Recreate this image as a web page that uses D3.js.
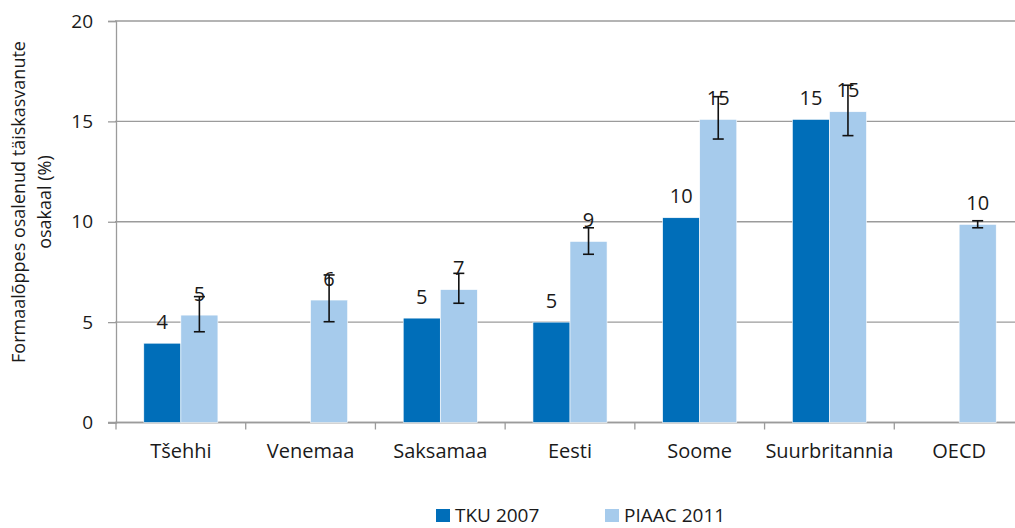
<!DOCTYPE html>
<html>
<head>
<meta charset="utf-8">
<script src="https://cdn.jsdelivr.net/npm/d3@7"></script>
<style>
  body { margin: 0; background: #fff; }
  svg text { font-family: "Open Sans", sans-serif; fill: #1a1a1a; }
</style>
</head>
<body>
<div id="chart"></div>
<script>
// data
var categories = ["Tšehhi", "Venemaa", "Saksamaa", "Eesti", "Soome", "Suurbritannia", "OECD"];
var seriesNames = ["TKU 2007", "PIAAC 2011"];
var tku2007 = [3.95, null, 5.2, 5.0, 10.2, 15.1, null];
var piaac2011 = [5.35, 6.1, 6.62, 9.02, 15.1, 15.48, 9.87];
var piaacLow = [4.52, 5.02, 5.94, 8.38, 14.12, 14.29, 9.70];
var piaacHigh = [6.27, 7.35, 7.43, 9.70, 16.23, 16.8, 10.05];
var yTicks = [0, 5, 10, 15, 20];
var colors = ["#006eb9", "#a6cbec"];

var W = 1015, H = 528;
var margin = {top: 21, left: 116, bottom: 105.5},
    width = 908,
    height = H - margin.top - margin.bottom;

var svg = d3.select("#chart")
  .append("svg")
    .attr("width", W)
    .attr("height", H);

var g = svg.append("g")
    .attr("transform", "translate(" + margin.left + "," + margin.top + ")");

var x = d3.scaleBand()
    .domain(categories)
    .range([0, width]);

var x1 = d3.scaleBand()
    .domain(seriesNames)
    .range([0, x.bandwidth()])
    .paddingOuter(0.75)
    .paddingInner(0);

var y = d3.scaleLinear()
    .domain([0, 20])
    .range([height, 0]);

// gridlines
g.append("g")
  .selectAll("line")
  .data(yTicks)
  .enter()
  .append("line")
    .attr("x1", -1)
    .attr("x2", width)
    .attr("y1", function(d) { return y(d); })
    .attr("y2", function(d) { return y(d); })
    .style("stroke", "#9b9b9b")
    .style("stroke-width", 1.3);

// Y axis
var yAxis = g.append("g")
    .call(d3.axisLeft(y).tickValues(yTicks).tickSize(8).tickPadding(15));
yAxis.select(".domain").style("stroke", "#9b9b9b").style("stroke-width", 1.3);
yAxis.selectAll(".tick line").style("stroke", "#9b9b9b").style("stroke-width", 1.3);
yAxis.selectAll("text").style("font-size", "19px").style("font-family", "Open Sans, sans-serif").style("fill", "#1a1a1a");

// X axis - ticks on category boundaries
var xAxis = g.append("g")
    .attr("transform", "translate(0," + height + ")");
xAxis.append("line")
    .attr("x1", -8).attr("x2", width)
    .style("stroke", "#9b9b9b").style("stroke-width", 1.3);
xAxis.selectAll(".sep")
  .data(categories)
  .enter()
  .append("line")
    .attr("class", "sep")
    .attr("x1", function(d) { return x(d); })
    .attr("x2", function(d) { return x(d); })
    .attr("y1", 0).attr("y2", 7)
    .style("stroke", "#9b9b9b").style("stroke-width", 1.3);
xAxis.selectAll(".lbl")
  .data(categories)
  .enter()
  .append("text")
    .attr("class", "lbl")
    .attr("x", function(d) { return x(d) + x.bandwidth() / 2; })
    .attr("y", 35)
    .attr("text-anchor", "middle")
    .style("font-size", "20px")
    .text(function(d) { return d; });

// bars
var rows = categories.map(function(c, i) {
  return {cat: c, vals: [tku2007[i], piaac2011[i]], lo: piaacLow[i], hi: piaacHigh[i]};
});

var groups = g.selectAll(".grp")
  .data(rows)
  .enter()
  .append("g")
    .attr("transform", function(d) { return "translate(" + x(d.cat) + ",0)"; });

groups.selectAll("rect")
  .data(function(d) {
    return d.vals.map(function(v, k) { return {name: seriesNames[k], v: v, k: k}; })
      .filter(function(e) { return e.v != null; });
  })
  .enter()
  .append("rect")
    .attr("x", function(e) { return x1(e.name); })
    .attr("width", x1.bandwidth())
    .attr("y", function(e) { return y(e.v); })
    .attr("height", function(e) { return height - y(e.v); })
    .style("fill", function(e) { return colors[e.k]; })
    .style("stroke", "#fff")
    .style("stroke-width", 0.6);

// error bars on PIAAC
var cx = function() { return x1("PIAAC 2011") + x1.bandwidth() / 2; };
var err = groups.append("g").attr("class", "err");
err.append("line")
    .attr("x1", cx).attr("x2", cx)
    .attr("y1", function(d) { return y(d.lo); })
    .attr("y2", function(d) { return y(d.hi); });
err.append("line")
    .attr("x1", function() { return cx() - 5.5; }).attr("x2", function() { return cx() + 5.5; })
    .attr("y1", function(d) { return y(d.lo); })
    .attr("y2", function(d) { return y(d.lo); });
err.append("line")
    .attr("x1", function() { return cx() - 5.5; }).attr("x2", function() { return cx() + 5.5; })
    .attr("y1", function(d) { return y(d.hi); })
    .attr("y2", function(d) { return y(d.hi); });
err.selectAll("line").style("stroke", "#111").style("stroke-width", 1.6);

// value labels
groups.selectAll(".val")
  .data(function(d) {
    return d.vals.map(function(v, k) { return {name: seriesNames[k], v: v}; })
      .filter(function(e) { return e.v != null; });
  })
  .enter()
  .append("text")
    .attr("class", "val")
    .attr("x", function(e) { return x1(e.name) + x1.bandwidth() / 2; })
    .attr("y", function(e) { return y(e.v) - 14.5; })
    .attr("text-anchor", "middle")
    .style("font-size", "20px")
    .text(function(e) { return Math.round(e.v); });

// Y axis title
svg.append("text")
    .attr("transform", "translate(25,202) rotate(-90)")
    .attr("text-anchor", "middle")
    .style("font-size", "18px")
  .selectAll("tspan")
  .data(["Formaalõppes osalenud täiskasvanute", "osakaal (%)"])
  .enter()
  .append("tspan")
    .attr("x", 0)
    .attr("dy", function(d, i) { return i === 0 ? 0 : 26; })
    .text(function(d) { return d; });

// legend
var legendX = [436, 605];
var legend = svg.selectAll(".leg")
  .data(seriesNames)
  .enter()
  .append("g")
    .attr("transform", function(d, i) { return "translate(" + legendX[i] + ",508)"; });
legend.append("rect")
    .attr("y", 1)
    .attr("width", 14).attr("height", 13)
    .style("fill", function(d, i) { return colors[i]; });
legend.append("text")
    .attr("x", 19).attr("y", 14)
    .style("font-size", "19px")
    .text(function(d) { return d; });
</script>
</body>
</html>
